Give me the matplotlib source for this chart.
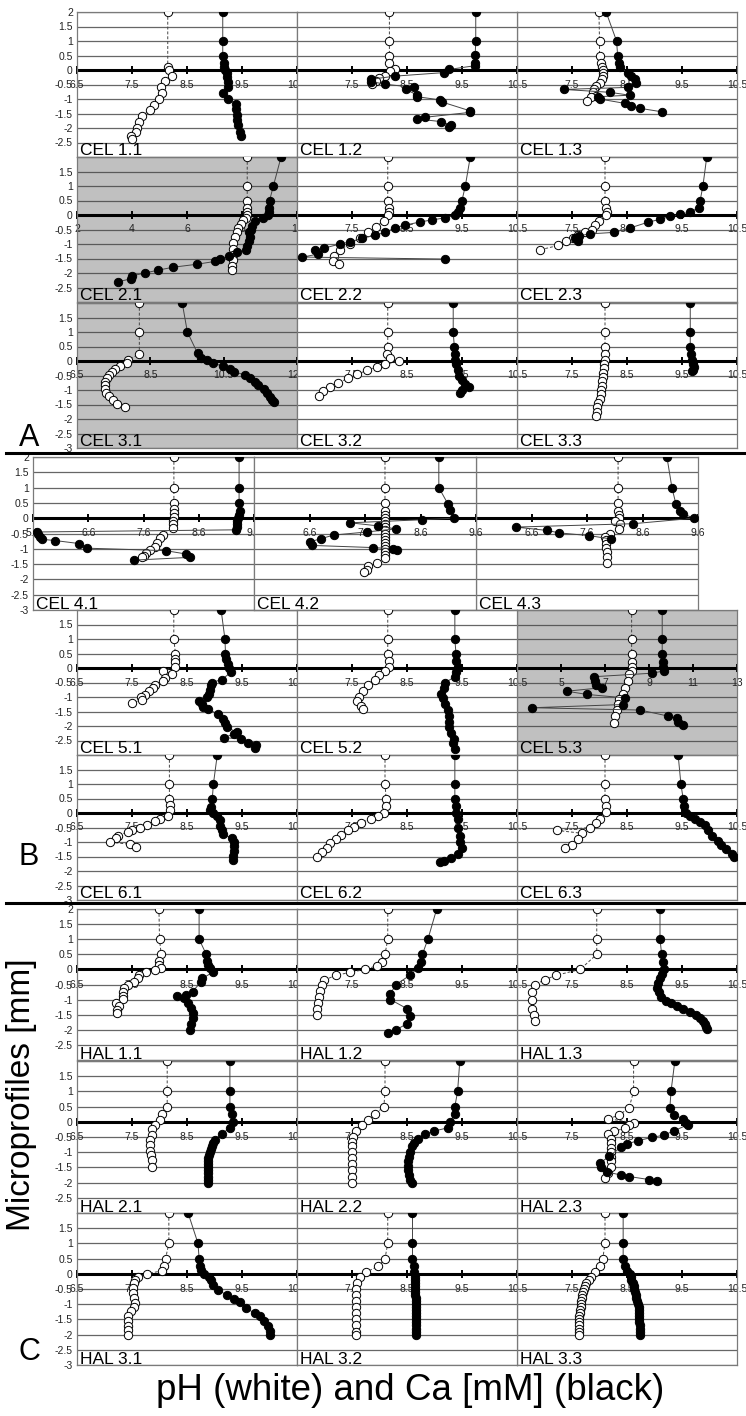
import matplotlib
matplotlib.use('Agg')
import matplotlib.pyplot as plt
import numpy as np

plt.rcParams['font.family'] = ['Liberation Sans', 'DejaVu Sans']

# ---------------- data: (value, depth) pairs ----------------
CEL11_PH = [(8.15,2),(8.15,0.11),(8.17,0.0),(8.23,-0.2),(8.1,-0.38),(8.03,-0.59),(8.05,-0.78),(7.99,-1.0),(7.9,-1.2),(7.83,-1.37),(7.68,-1.59),(7.63,-1.78),(7.59,-2.0),(7.57,-2.14),(7.48,-2.28),(7.5,-2.37)]
CEL11_CA = [(9.15,2),(9.15,1),(9.15,0.5),(9.17,0.25),(9.18,0.12),(9.2,0.0),(9.22,-0.12),(9.22,-0.25),(9.24,-0.4),(9.25,-0.6),(9.15,-0.8),(9.24,-1.0),(9.39,-1.17),(9.39,-1.36),(9.4,-1.55),(9.41,-1.72),(9.42,-1.9),(9.46,-2.13),(9.48,-2.28)]
CEL12_PH = [(8.18,2),(8.18,1),(8.18,0.5),(8.18,0.25),(8.28,0.02),(8.2,-0.05),(8.1,-0.2),(8.0,-0.28),(7.93,-0.37),(7.87,-0.48)]
CEL12_CA = [(9.75,2),(9.75,1.01),(9.74,0.52),(9.74,0.25),(9.74,0.15),(9.27,0.02),(9.17,-0.09),(8.29,-0.21),(7.84,-0.32),(7.85,-0.4),(8.1,-0.49),(8.63,-0.6),(8.48,-0.67),(8.68,-0.86),(8.68,-0.92),(9.1,-1.03),(9.13,-1.1),(9.65,-1.41),(9.65,-1.46),(8.83,-1.63),(8.69,-1.69),(9.12,-1.78),(9.3,-1.9),(9.27,-1.97)]
CEL13_PH = [(7.99,2),(8.0,1),(8.0,0.5),(8.02,0.25),(8.04,0.1),(8.06,0),(8.07,-0.1),(8.06,-0.2),(8.04,-0.3),(8.0,-0.45),(7.94,-0.55),(7.9,-0.65),(7.88,-0.77),(7.94,-0.88),(7.85,-0.94),(7.77,-1.08)]
CEL13_CA = [(8.12,2),(8.31,1),(8.33,0.5),(8.35,0.25),(8.37,0.1),(8.52,-0.1),(8.58,-0.2),(8.64,-0.32),(8.67,-0.45),(8.52,-0.6),(7.35,-0.67),(8.19,-0.77),(8.55,-0.87),(7.98,-0.92),(8.0,-1.0),(8.46,-1.15),(8.58,-1.23),(8.73,-1.32),(9.13,-1.44)]

CEL21_PH = [(8.19,2),(8.19,1),(8.19,0.49),(8.19,0.23),(8.2,0.1),(8.19,0),(8.14,-0.1),(8.05,-0.17),(7.95,-0.3),(7.87,-0.45),(7.81,-0.57),(7.75,-0.76),(7.69,-0.95),(7.67,-1.18),(7.67,-1.37),(7.66,-1.54),(7.63,-1.75),(7.63,-1.9)]
CEL21_CA = [(9.42,2),(9.14,1),(9.0,0.49),(8.98,0.23),(8.98,0.1),(8.95,0),(8.78,-0.1),(8.47,-0.2),(8.35,-0.37),(8.31,-0.5),(8.27,-0.6),(8.29,-0.76),(8.27,-0.91),(8.2,-1.07),(8.13,-1.2),(7.83,-1.28),(7.54,-1.4),(7.2,-1.52),(7.02,-1.6),(6.35,-1.7),(5.5,-1.8),(4.96,-1.9),(4.47,-2.0),(3.99,-2.1),(3.97,-2.2),(3.5,-2.3)]
CEL22_PH = [(8.15,2),(8.15,1),(8.15,0.5),(8.17,0.25),(8.17,0.1),(8.15,0),(8.08,-0.2),(7.94,-0.4),(7.8,-0.6),(7.65,-0.8),(7.46,-1.0),(7.28,-1.2),(7.17,-1.4),(7.15,-1.6),(7.27,-1.7)]
CEL22_CA = [(9.65,2),(9.56,1),(9.5,0.5),(9.47,0.25),(9.42,0.12),(9.37,0),(9.19,-0.1),(8.95,-0.17),(8.74,-0.24),(8.46,-0.35),(8.28,-0.45),(8.1,-0.6),(7.92,-0.7),(7.68,-0.8),(7.46,-0.93),(7.28,-1.0),(7.0,-1.14),(6.83,-1.2),(6.88,-1.35),(6.6,-1.45),(9.2,-1.52)]
CEL23_PH = [(8.1,2),(8.1,1),(8.1,0.5),(8.12,0.25),(8.13,0.1),(8.12,0),(7.99,-0.2),(7.92,-0.35),(7.86,-0.5),(7.73,-0.6),(7.6,-0.7),(7.52,-0.8),(7.39,-0.9),(7.25,-1.05),(6.92,-1.2)]
CEL23_CA = [(9.95,2),(9.88,1),(9.83,0.5),(9.8,0.25),(9.65,0.1),(9.46,0.02),(9.28,-0.05),(9.1,-0.15),(8.88,-0.25),(8.55,-0.45),(8.26,-0.6),(7.83,-0.65),(7.62,-0.72),(7.55,-0.8),(7.6,-0.9)]

CEL31_PH = [(8.2,2),(8.2,1),(8.2,0.24),(7.9,0.03),(7.86,-0.07),(7.67,-0.17),(7.54,-0.27),(7.45,-0.37),(7.36,-0.48),(7.32,-0.6),(7.27,-0.71),(7.25,-0.83),(7.26,-0.97),(7.29,-1.1),(7.36,-1.2),(7.47,-1.35),(7.6,-1.48),(7.81,-1.6)]
CEL31_CA = [(9.37,2),(9.51,1),(9.79,0.26),(9.88,0.12),(10.05,0.03),(10.2,-0.08),(10.47,-0.17),(10.66,-0.28),(10.77,-0.37),(11.08,-0.48),(11.22,-0.6),(11.36,-0.71),(11.45,-0.83),(11.6,-0.98),(11.69,-1.11),(11.76,-1.25),(11.82,-1.36),(11.87,-1.43)]
CEL32_PH = [(8.15,2),(8.15,1),(8.15,0.5),(8.13,0.25),(8.2,0.1),(8.35,0.0),(8.1,-0.12),(7.95,-0.2),(7.78,-0.32),(7.6,-0.45),(7.43,-0.6),(7.25,-0.75),(7.1,-0.9),(6.98,-1.05),(6.9,-1.2)]
CEL32_CA = [(9.34,2),(9.34,1),(9.36,0.5),(9.37,0.25),(9.38,0.05),(9.4,-0.1),(9.42,-0.3),(9.45,-0.5),(9.5,-0.65),(9.55,-0.8),(9.62,-0.9),(9.5,-1.0),(9.47,-1.1)]
CEL33_PH = [(8.1,2),(8.1,1),(8.1,0.5),(8.1,0.25),(8.1,0.05),(8.08,-0.1),(8.08,-0.25),(8.07,-0.4),(8.06,-0.55),(8.05,-0.7),(8.05,-0.85),(8.03,-1.0),(8.02,-1.15),(8.0,-1.3),(7.98,-1.45),(7.96,-1.6),(7.95,-1.75),(7.93,-1.9)]
CEL33_CA = [(9.65,2),(9.65,1),(9.65,0.5),(9.67,0.25),(9.68,0.05),(9.7,-0.1),(9.72,-0.2),(9.7,-0.3),(9.68,-0.35)]

CEL41_PH = [(8.15,2),(8.15,1),(8.15,0.5),(8.15,0.3),(8.15,0.18),(8.15,0.05),(8.14,-0.08),(8.14,-0.2),(8.13,-0.32),(7.95,-0.54),(7.89,-0.65),(7.84,-0.81),(7.8,-0.94),(7.71,-1.05),(7.65,-1.13),(7.6,-1.23),(7.57,-1.28)]
CEL41_CA = [(9.33,2),(9.33,1),(9.33,0.5),(9.35,0.25),(9.33,0.1),(9.31,0),(9.3,-0.1),(9.3,-0.2),(9.29,-0.3),(9.28,-0.38),(5.67,-0.45),(5.69,-0.52),(5.72,-0.6),(5.76,-0.69),(6.0,-0.73),(6.44,-0.83),(6.58,-0.98),(8.0,-1.06),(8.37,-1.17),(8.44,-1.28),(7.43,-1.37)]
CEL42_PH = [(7.96,2),(7.96,1),(7.96,0.5),(7.96,0.25),(7.96,0.1),(7.96,0),(7.96,-0.1),(7.96,-0.2),(7.96,-0.3),(7.96,-0.4),(7.96,-0.5),(7.96,-0.6),(7.96,-0.7),(7.96,-0.8),(7.96,-0.9),(7.96,-1.0),(7.96,-1.1),(7.96,-1.2),(7.96,-1.3),(7.81,-1.47),(7.66,-1.55),(7.63,-1.68),(7.58,-1.75)]
CEL42_CA = [(8.93,2),(8.93,1),(9.09,0.48),(9.14,0.27),(9.2,0.0),(8.63,-0.05),(7.33,-0.15),(7.83,-0.25),(8.15,-0.35),(7.63,-0.45),(7.04,-0.55),(6.8,-0.67),(6.6,-0.78),(6.65,-0.89),(7.75,-0.96),(8.11,-1.0),(8.17,-1.05)]
CEL43_PH = [(8.16,2),(8.16,1),(8.16,0.5),(8.16,0.25),(8.17,0.1),(8.17,0),(8.1,-0.1),(8.19,-0.2),(8.17,-0.35),(8.01,-0.52),(7.92,-0.6),(7.94,-0.7),(7.95,-0.84),(7.95,-0.98),(7.96,-1.1),(7.96,-1.27),(7.96,-1.45)]
CEL43_CA = [(9.04,2),(9.13,1),(9.2,0.48),(9.28,0.25),(9.33,0.14),(9.53,0),(8.43,-0.18),(6.32,-0.29),(6.88,-0.4),(7.1,-0.48),(7.64,-0.57),(8.04,-0.68)]

CEL51_PH = [(8.26,2),(8.26,1),(8.29,0.5),(8.29,0.3),(8.29,0.2),(8.29,0.05),(8.07,-0.1),(8.23,-0.2),(8.1,-0.35),(8.07,-0.45),(7.91,-0.6),(7.89,-0.68),(7.8,-0.8),(7.74,-0.92),(7.66,-1.0),(7.68,-1.1),(7.5,-1.2)]
CEL51_CA = [(9.12,2),(9.19,1),(9.2,0.5),(9.21,0.3),(9.24,0.15),(9.27,0),(9.3,-0.15),(9.13,-0.4),(8.95,-0.5),(8.93,-0.6),(8.92,-0.75),(8.9,-0.9),(8.86,-1.0),(8.71,-1.15),(8.77,-1.25),(8.79,-1.35),(8.88,-1.4),(9.06,-1.6),(9.15,-1.75),(9.2,-1.9),(9.22,-2.05),(9.4,-2.2),(9.35,-2.27),(9.18,-2.4),(9.48,-2.45),(9.6,-2.57),(9.76,-2.65),(9.74,-2.75)]
CEL52_PH = [(8.15,2),(8.15,1),(8.15,0.5),(8.17,0.25),(8.17,0.05),(8.1,-0.1),(8.0,-0.25),(7.92,-0.4),(7.8,-0.6),(7.7,-0.8),(7.63,-1.0),(7.6,-1.15),(7.67,-1.3),(7.7,-1.4)]
CEL52_CA = [(9.37,2),(9.37,1),(9.39,0.5),(9.4,0.25),(9.42,0.05),(9.4,-0.15),(9.37,-0.3),(9.2,-0.5),(9.17,-0.7),(9.12,-0.9),(9.15,-1.05),(9.2,-1.25),(9.25,-1.45),(9.27,-1.65),(9.27,-1.85),(9.27,-2.05),(9.3,-2.25),(9.35,-2.45),(9.33,-2.6),(9.37,-2.8)]
CEL53_PH = [(8.21,2),(8.21,1),(8.21,0.5),(8.24,0.21),(8.24,0.05),(8.24,-0.1),(8.1,-0.22),(8.03,-0.45),(7.93,-0.68),(7.8,-0.9),(7.65,-1.07),(7.57,-1.25),(7.53,-1.45),(7.47,-1.64),(7.42,-1.9)]
CEL53_CA = [(9.6,2),(9.6,1),(9.6,0.5),(9.65,0.22),(9.65,0.05),(9.7,-0.1),(9.12,-0.18),(6.5,-0.3),(6.55,-0.45),(6.6,-0.57),(6.85,-0.68),(5.26,-0.8),(6.17,-0.91),(7.9,-1.03),(7.8,-1.26),(3.7,-1.37),(8.6,-1.45),(9.88,-1.66),(10.27,-1.74),(10.3,-1.85),(10.55,-1.95)]

CEL61_PH = [(8.18,2),(8.18,1),(8.18,0.5),(8.2,0.27),(8.2,0.1),(8.16,-0.1),(8.0,-0.2),(7.92,-0.28),(7.77,-0.4),(7.65,-0.5),(7.5,-0.57),(7.43,-0.64),(7.25,-0.78),(7.2,-0.86),(7.1,-1.0),(7.46,-1.08),(7.57,-1.16)]
CEL61_CA = [(9.05,2),(8.98,1),(8.96,0.5),(8.93,0.22),(8.92,0.1),(8.98,0),(9.05,-0.1),(9.1,-0.23),(9.1,-0.45),(9.13,-0.57),(9.15,-0.74),(9.32,-0.86),(9.36,-1.0),(9.36,-1.14),(9.35,-1.31),(9.33,-1.48),(9.33,-1.62)]
CEL62_PH = [(8.1,2),(8.1,1),(8.12,0.5),(8.12,0.25),(8.08,0.0),(7.98,-0.1),(7.85,-0.2),(7.67,-0.33),(7.53,-0.47),(7.42,-0.6),(7.3,-0.75),(7.2,-0.9),(7.1,-1.05),(7.05,-1.2),(6.95,-1.35),(6.87,-1.5)]
CEL62_CA = [(9.37,2),(9.37,1),(9.37,0.5),(9.39,0.25),(9.4,0.0),(9.43,-0.2),(9.43,-0.5),(9.47,-0.8),(9.47,-1.0),(9.5,-1.2),(9.43,-1.4),(9.3,-1.55),(9.18,-1.65),(9.1,-1.7)]
CEL63_PH = [(8.1,2),(8.1,1),(8.1,0.5),(8.12,0.25),(8.12,0.05),(8.0,-0.2),(7.94,-0.35),(7.83,-0.5),(7.23,-0.6),(7.68,-0.7),(7.61,-0.9),(7.5,-1.1),(7.37,-1.2)]
CEL63_CA = [(9.43,2),(9.48,1),(9.52,0.5),(9.54,0.25),(9.57,0.0),(9.65,-0.1),(9.74,-0.2),(9.83,-0.3),(9.92,-0.4),(9.97,-0.6),(10.05,-0.8),(10.15,-0.95),(10.2,-1.1),(10.3,-1.25),(10.4,-1.4),(10.45,-1.5)]

HAL11_PH = [(7.99,2),(8.0,1),(8.03,0.5),(7.99,0.27),(7.99,0.14),(8.02,0.03),(7.92,-0.02),(7.76,-0.1),(7.63,-0.2),(7.6,-0.3),(7.54,-0.42),(7.42,-0.5),(7.36,-0.63),(7.34,-0.74),(7.33,-0.87),(7.33,-0.98),(7.2,-1.12),(7.26,-1.22),(7.23,-1.33),(7.23,-1.44)]
HAL11_CA = [(8.72,2),(8.72,1),(8.85,0.5),(8.86,0.27),(8.89,0.14),(8.92,0.03),(8.98,-0.08),(8.78,-0.3),(8.75,-0.42),(8.6,-0.74),(8.48,-0.85),(8.32,-0.87),(8.44,-0.96),(8.51,-1.12),(8.57,-1.29),(8.6,-1.44),(8.6,-1.6),(8.57,-1.8),(8.55,-2.0)]
HAL12_PH = [(8.15,2),(8.15,1),(8.1,0.5),(8.05,0.25),(7.95,0.12),(7.74,0.0),(7.46,-0.1),(7.2,-0.2),(7.0,-0.35),(6.95,-0.5),(6.92,-0.7),(6.9,-0.9),(6.88,-1.1),(6.87,-1.3),(6.87,-1.5)]
HAL12_CA = [(9.04,2),(8.88,1),(8.78,0.5),(8.75,0.25),(8.7,0.05),(8.55,-0.2),(8.3,-0.5),(8.2,-0.8),(8.2,-1.0),(8.5,-1.3),(8.55,-1.55),(8.5,-1.8),(8.3,-2.0),(8.15,-2.1)]
HAL13_PH = [(7.95,2),(7.95,1),(7.95,0.5),(7.65,0.0),(7.2,-0.2),(7.0,-0.35),(6.83,-0.5),(6.77,-0.75),(6.77,-1.0),(6.78,-1.3),(6.8,-1.5),(6.82,-1.7)]
HAL13_CA = [(9.1,2),(9.1,1),(9.13,0.5),(9.15,0.25),(9.18,0.0),(9.14,-0.15),(9.1,-0.3),(9.07,-0.45),(9.05,-0.6),(9.08,-0.75),(9.12,-0.9),(9.2,-1.05),(9.3,-1.12),(9.4,-1.2),(9.52,-1.3),(9.65,-1.4),(9.75,-1.5),(9.83,-1.6),(9.88,-1.7),(9.92,-1.8),(9.94,-1.9),(9.95,-1.97)]

HAL21_PH = [(8.14,2),(8.14,1),(8.14,0.5),(8.05,0.25),(8.0,0.05),(7.92,-0.1),(7.86,-0.25),(7.86,-0.45),(7.83,-0.6),(7.82,-0.75),(7.82,-0.95),(7.84,-1.1),(7.86,-1.25),(7.87,-1.5)]
HAL21_CA = [(9.28,2),(9.28,1),(9.28,0.5),(9.31,0.25),(9.33,0.0),(9.28,-0.2),(9.13,-0.4),(9.0,-0.6),(8.97,-0.7),(8.95,-0.8),(8.93,-0.9),(8.91,-1.0),(8.9,-1.1),(8.88,-1.2),(8.88,-1.3),(8.88,-1.4),(8.88,-1.5),(8.88,-1.6),(8.88,-1.7),(8.88,-1.8),(8.88,-1.9),(8.88,-2.0)]
HAL22_PH = [(8.1,2),(8.1,1),(8.08,0.5),(7.92,0.25),(7.79,0.05),(7.68,-0.1),(7.57,-0.3),(7.52,-0.5),(7.5,-0.65),(7.5,-0.8),(7.5,-1.0),(7.5,-1.2),(7.5,-1.4),(7.5,-1.6),(7.5,-1.8),(7.5,-2.0)]
HAL22_CA = [(9.46,2),(9.42,1),(9.37,0.5),(9.37,0.25),(9.28,0.0),(9.24,-0.2),(9.0,-0.3),(8.83,-0.4),(8.7,-0.55),(8.63,-0.7),(8.6,-0.8),(8.56,-1.0),(8.54,-1.15),(8.52,-1.3),(8.52,-1.45),(8.52,-1.6),(8.54,-1.75),(8.56,-1.9),(8.6,-2.0)]
HAL23_PH = [(8.62,2),(8.62,1),(8.54,0.47),(8.36,0.22),(8.16,0.1),(8.62,-0.03),(8.54,-0.1),(8.47,-0.22),(8.26,-0.3),(8.16,-0.4),(8.2,-0.55),(8.2,-0.7),(8.2,-0.85),(8.2,-1.0),(8.2,-1.15),(8.2,-1.3),(8.2,-1.5),(8.15,-1.7),(8.1,-1.85)]
HAL23_CA = [(9.37,2),(9.3,1),(9.28,0.47),(9.35,0.23),(9.52,0.1),(9.58,-0.03),(9.6,-0.1),(9.35,-0.3),(9.17,-0.44),(8.96,-0.51),(8.7,-0.62),(8.5,-0.73),(8.39,-0.83),(8.18,-1.13),(8.0,-1.37),(8.03,-1.5),(8.13,-1.65),(8.39,-1.75),(8.54,-1.8),(8.9,-1.9),(9.05,-1.95)]

HAL31_PH = [(8.17,2),(8.17,1),(8.11,0.5),(8.08,0.27),(8.05,0.1),(7.77,0),(7.6,-0.1),(7.56,-0.19),(7.53,-0.3),(7.52,-0.46),(7.51,-0.62),(7.53,-0.79),(7.55,-0.95),(7.53,-1.08),(7.49,-1.23),(7.43,-1.39),(7.42,-1.56),(7.42,-1.72),(7.42,-1.86),(7.42,-2.0)]
HAL31_CA = [(8.52,2),(8.7,1),(8.72,0.5),(8.73,0.27),(8.76,0.12),(8.8,0),(8.9,-0.1),(8.93,-0.2),(8.97,-0.38),(9.07,-0.53),(9.22,-0.7),(9.35,-0.83),(9.46,-0.94),(9.58,-1.14),(9.73,-1.29),(9.82,-1.38),(9.9,-1.55),(9.97,-1.72),(10.0,-1.88),(10.0,-2.0)]
HAL32_PH = [(8.15,2),(8.15,1),(8.1,0.5),(7.98,0.25),(7.75,0.05),(7.65,-0.1),(7.6,-0.3),(7.58,-0.5),(7.57,-0.7),(7.57,-0.9),(7.57,-1.1),(7.57,-1.3),(7.57,-1.5),(7.57,-1.7),(7.57,-1.9),(7.57,-2.0)]
HAL32_CA = [(8.6,2),(8.6,1),(8.6,0.5),(8.62,0.25),(8.63,0.05),(8.64,-0.1),(8.65,-0.2),(8.65,-0.3),(8.65,-0.4),(8.64,-0.5),(8.65,-0.6),(8.65,-0.7),(8.66,-0.8),(8.66,-0.9),(8.66,-1.0),(8.66,-1.1),(8.66,-1.2),(8.66,-1.3),(8.67,-1.4),(8.67,-1.5),(8.67,-1.6),(8.67,-1.7),(8.67,-1.8),(8.67,-1.9),(8.67,-2.0)]
HAL33_PH = [(8.1,2),(8.1,1),(8.06,0.5),(8.0,0.25),(7.92,0.05),(7.85,-0.1),(7.8,-0.2),(7.76,-0.3),(7.74,-0.4),(7.72,-0.5),(7.7,-0.6),(7.69,-0.7),(7.68,-0.8),(7.67,-0.9),(7.67,-1.0),(7.66,-1.1),(7.65,-1.2),(7.64,-1.3),(7.63,-1.4),(7.63,-1.5),(7.62,-1.6),(7.62,-1.7),(7.62,-1.8),(7.62,-1.9),(7.62,-2.0)]
HAL33_CA = [(8.43,2),(8.43,1),(8.43,0.5),(8.46,0.25),(8.5,0.1),(8.55,0.0),(8.57,-0.1),(8.58,-0.2),(8.6,-0.3),(8.62,-0.4),(8.63,-0.5),(8.65,-0.6),(8.66,-0.7),(8.67,-0.8),(8.68,-0.9),(8.7,-1.0),(8.71,-1.1),(8.72,-1.2),(8.72,-1.3),(8.72,-1.4),(8.72,-1.5),(8.72,-1.6),(8.73,-1.7),(8.73,-1.8),(8.74,-1.9),(8.74,-2.0)]

# x tick sets
TICKS_STD = [6.5, 7.5, 8.5, 9.5, 10.5]
TICKS_21 = [2, 4, 6, 8, 10]
TICKS_31 = [6.5, 8.5, 10.5, 12.5]
TICKS_4 = [5.6, 6.6, 7.6, 8.6, 9.6]
TICKS_53 = [3, 5, 7, 9, 11, 13]
Y_TICKS = [2, 1.5, 1, 0.5, 0, -0.5, -1, -1.5, -2, -2.5, -3]

# ---------------- layout (pixels) ----------------
W, H = 746, 1416
fig = plt.figure(figsize=(W / 100, H / 100), dpi=100)

COLS = [(77, 297), (297, 517), (517, 737)]
COLS4 = [(33, 254), (254, 476), (476, 698)]
PANELS = [
    ("CEL 1.1", (12, 157), 'first', 0, COLS, (6.5, 10.5), TICKS_STD, False, CEL11_PH, CEL11_CA),
    ("CEL 1.2", (12, 157), 'first', 1, COLS, (6.5, 10.5), TICKS_STD, False, CEL12_PH, CEL12_CA),
    ("CEL 1.3", (12, 157), 'first', 2, COLS, (6.5, 10.5), TICKS_STD, False, CEL13_PH, CEL13_CA),
    ("CEL 2.1", (157, 302), 'mid', 0, COLS, (2, 10), TICKS_21, True, CEL21_PH, CEL21_CA),
    ("CEL 2.2", (157, 302), 'mid', 1, COLS, (6.5, 10.5), TICKS_STD, False, CEL22_PH, CEL22_CA),
    ("CEL 2.3", (157, 302), 'mid', 2, COLS, (6.5, 10.5), TICKS_STD, False, CEL23_PH, CEL23_CA),
    ("CEL 3.1", (303, 448), 'last', 0, COLS, (6.5, 12.5), TICKS_31, True, CEL31_PH, CEL31_CA),
    ("CEL 3.2", (303, 448), 'last', 1, COLS, (6.5, 10.5), TICKS_STD, False, CEL32_PH, CEL32_CA),
    ("CEL 3.3", (303, 448), 'last', 2, COLS, (6.5, 10.5), TICKS_STD, False, CEL33_PH, CEL33_CA),
    ("CEL 4.1", (457, 610), 'full', 0, COLS4, (5.6, 9.6), TICKS_4, False, CEL41_PH, CEL41_CA),
    ("CEL 4.2", (457, 610), 'full', 1, COLS4, (5.6, 9.6), TICKS_4, False, CEL42_PH, CEL42_CA),
    ("CEL 4.3", (457, 610), 'full', 2, COLS4, (5.6, 9.6), TICKS_4, False, CEL43_PH, CEL43_CA),
    ("CEL 5.1", (610, 755), 'mid', 0, COLS, (6.5, 10.5), TICKS_STD, False, CEL51_PH, CEL51_CA),
    ("CEL 5.2", (610, 755), 'mid', 1, COLS, (6.5, 10.5), TICKS_STD, False, CEL52_PH, CEL52_CA),
    ("CEL 5.3", (610, 755), 'mid', 2, COLS, (3, 13), TICKS_53, True, CEL53_PH, CEL53_CA),
    ("CEL 6.1", (755, 900), 'last', 0, COLS, (6.5, 10.5), TICKS_STD, False, CEL61_PH, CEL61_CA),
    ("CEL 6.2", (755, 900), 'last', 1, COLS, (6.5, 10.5), TICKS_STD, False, CEL62_PH, CEL62_CA),
    ("CEL 6.3", (755, 900), 'last', 2, COLS, (6.5, 10.5), TICKS_STD, False, CEL63_PH, CEL63_CA),
    ("HAL 1.1", (909, 1060), 'first', 0, COLS, (6.5, 10.5), TICKS_STD, False, HAL11_PH, HAL11_CA),
    ("HAL 1.2", (909, 1060), 'first', 1, COLS, (6.5, 10.5), TICKS_STD, False, HAL12_PH, HAL12_CA),
    ("HAL 1.3", (909, 1060), 'first', 2, COLS, (6.5, 10.5), TICKS_STD, False, HAL13_PH, HAL13_CA),
    ("HAL 2.1", (1061, 1213), 'mid', 0, COLS, (6.5, 10.5), TICKS_STD, False, HAL21_PH, HAL21_CA),
    ("HAL 2.2", (1061, 1213), 'mid', 1, COLS, (6.5, 10.5), TICKS_STD, False, HAL22_PH, HAL22_CA),
    ("HAL 2.3", (1061, 1213), 'mid', 2, COLS, (6.5, 10.5), TICKS_STD, False, HAL23_PH, HAL23_CA),
    ("HAL 3.1", (1213, 1365), 'last', 0, COLS, (6.5, 10.5), TICKS_STD, False, HAL31_PH, HAL31_CA),
    ("HAL 3.2", (1213, 1365), 'last', 1, COLS, (6.5, 10.5), TICKS_STD, False, HAL32_PH, HAL32_CA),
    ("HAL 3.3", (1213, 1365), 'last', 2, COLS, (6.5, 10.5), TICKS_STD, False, HAL33_PH, HAL33_CA),
]

ZORDER_BY_COL = {0: 1, 2: 2, 1: 3}
TICK_FS = 7.5


def ylab(v, mode):
    hide = set()
    if mode == 'first':
        hide = {-3}
    elif mode == 'mid':
        hide = {2, -3}
    elif mode == 'last':
        hide = {2}
    return '' if v in hide else ('%g' % v)


for (name, (top, bot), mode, ci, cols, xlim, ticks, gray, ph, ca) in PANELS:
    x0, x1 = cols[ci]
    ax = fig.add_axes([x0 / W, 1 - bot / H, (x1 - x0) / W, (bot - top) / H])
    ax.set_zorder(ZORDER_BY_COL[ci])
    ax.set_facecolor('#c0c0c0' if gray else 'white')
    ax.set_xlim(*xlim)
    ax.set_ylim(-3, 2)
    ax.set_xticks([])
    ax.set_yticks(Y_TICKS)
    if ci == 0:
        ax.set_yticklabels([ylab(v, mode) for v in Y_TICKS])
        ax.tick_params(axis='y', length=0, pad=3, labelsize=TICK_FS, labelcolor='#222222')
    else:
        ax.set_yticklabels([])
        ax.tick_params(axis='y', length=0)
    ax.grid(axis='y', color='#666666' if not gray else '#5a5a5a', lw=0.9)
    ax.set_axisbelow(True)
    for s in ax.spines.values():
        s.set_color('#7a7a7a')
        s.set_linewidth(0.9)
    ax.axhline(0, color='black', lw=2.2, zorder=2)
    ax.plot(ticks, [0] * len(ticks), ls='none', marker='|', ms=6, mew=1.4,
            color='black', clip_on=False, zorder=2)
    for k, t in enumerate(ticks):
        if k == 0 and ci != 0:
            continue
        ax.text(t, -0.5, '%g' % t, ha='center', va='center', fontsize=TICK_FS,
                color='#222222', clip_on=False, zorder=2)
    px, py = zip(*ph)
    cx, cy = zip(*ca)
    ax.plot(px, py, ls=(0, (3, 2)), color='#444444', lw=0.7, marker='o', mfc='white',
            mec='black', ms=6, mew=0.7, zorder=4)
    ax.plot(cx, cy, ls='-', color='#444444', lw=0.7, marker='o', mfc='black',
            mec='black', ms=6, mew=0.7, zorder=5)
    ax.text(0.015, -0.01, name, transform=ax.transAxes, fontsize=12.5,
            ha='left', va='bottom', zorder=6)

# overlay for separators and big labels
ov = fig.add_axes([0, 0, 1, 1])
ov.set_zorder(10)
ov.set_facecolor('none')
ov.set_xlim(0, W)
ov.set_ylim(H, 0)
ov.axis('off')
ov.plot([6, W], [453, 453], color='black', lw=2.2)
ov.plot([6, W], [903, 903], color='black', lw=2.2)
ov.text(29, 438, 'A', fontsize=22, ha='center', va='center')
ov.text(29, 857, 'B', fontsize=22, ha='center', va='center')
ov.text(29, 1352, 'C', fontsize=22, ha='center', va='center')
ov.text(22, 1095, 'Microprofiles [mm]', fontsize=24, rotation=90, ha='center', va='center')
ov.text(410, 1390, 'pH (white) and Ca [mM] (black)', fontsize=26.5, ha='center', va='center')

fig.savefig('out.png', dpi=100)
